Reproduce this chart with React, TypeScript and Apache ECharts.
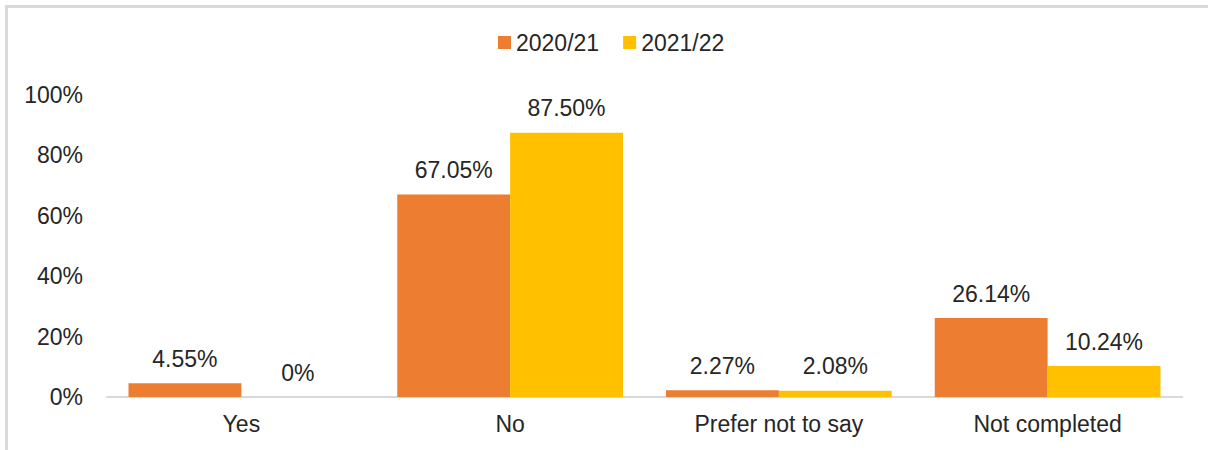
import React, { useEffect, useRef } from "react";
import * as echarts from "echarts";

const categories = ["Yes", "No", "Prefer not to say", "Not completed"];
const seriesNames = ["2020/21", "2021/22"];
const values2020 = [4.55, 67.05, 2.27, 26.14];
const values2021 = [0, 87.5, 2.08, 10.24];
const colors = ["#ED7D31", "#FFC000"];
const yTicks = [0, 20, 40, 60, 80, 100];

const FONT = "'Liberation Sans', Arial, sans-serif";
const TEXT = "#262626";
const FS = 23;

const fmt = (v: number) => (v === 0 ? "0%" : v.toFixed(2) + "%");

export default function App() {
  const ref = useRef<HTMLDivElement>(null);
  useEffect(() => {
    document.body.style.margin = "0";
    document.body.style.overflow = "hidden";
    const chart = echarts.init(ref.current!, null, { renderer: "svg" });
    const mkSeries = (name: string, data: number[], color: string) => ({
      name,
      type: "bar",
      data,
      barGap: "0%",
      barCategoryGap: "16%",
      itemStyle: { color },
      label: {
        show: true,
        position: "top",
        distance: 13,
        fontSize: FS,
        fontFamily: FONT,
        color: TEXT,
        formatter: (p: any) => fmt(p.value),
      },
    });
    chart.setOption({
      animation: false,
      backgroundColor: "#ffffff",
      textStyle: { fontFamily: FONT },
      graphic: [
        { type: "rect", shape: { x: 5, y: 5, width: 3, height: 445 }, style: { fill: "#d9d9d9" } },
        { type: "rect", shape: { x: 5, y: 5, width: 1203, height: 3 }, style: { fill: "#d9d9d9" } },
      ],
      legend: {
        data: seriesNames,
        top: 26,
        left: 493,
        itemWidth: 13,
        itemHeight: 13,
        itemGap: 24,
        icon: "rect",
        textStyle: { fontSize: FS, fontFamily: FONT, color: TEXT },
      },
      grid: { left: 107, right: 26, top: 95, bottom: 53, containLabel: false },
      xAxis: {
        type: "category",
        data: categories,
        axisLine: { lineStyle: { color: "#d9d9d9", width: 2 } },
        axisTick: { show: false },
        axisLabel: { fontSize: FS, fontFamily: FONT, color: TEXT, margin: 15 },
      },
      yAxis: {
        type: "value",
        min: yTicks[0],
        max: yTicks[yTicks.length - 1],
        interval: 20,
        splitLine: { show: false },
        axisLine: { show: false },
        axisTick: { show: false },
        axisLabel: { fontSize: FS, fontFamily: FONT, color: TEXT, margin: 24, formatter: (v: number) => v + "%" },
      },
      series: [
        mkSeries(seriesNames[0], values2020, colors[0]),
        mkSeries(seriesNames[1], values2021, colors[1]),
      ],
    });
    return () => chart.dispose();
  }, []);
  return <div ref={ref} style={{ width: 1208, height: 450 }} />;
}
